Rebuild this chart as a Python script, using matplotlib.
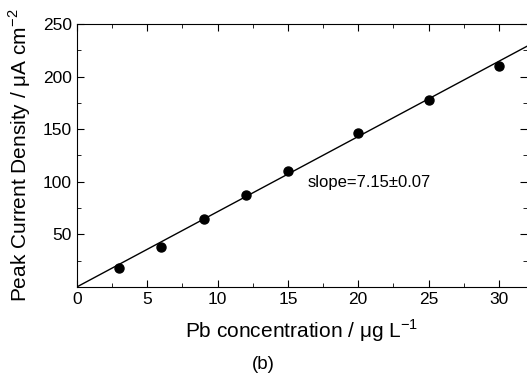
import numpy as np
import matplotlib
matplotlib.use('Agg')
import matplotlib.pyplot as plt
from matplotlib.ticker import MultipleLocator

plt.rcParams['font.family'] = ['Liberation Sans', 'DejaVu Sans']

# measured data points
conc = [3, 6, 9, 12, 15, 20, 25, 30]
current = [18, 38, 65, 87, 110, 146, 178, 210]

# fitted line
slope = 7.15
fit_x = [0, 32]

fig = plt.figure(figsize=(5.27, 3.8), dpi=100)
ax = fig.add_axes([0.146, 0.245, 0.854, 0.692])

ax.plot(fit_x, [slope * v for v in fit_x], color='black', lw=1.0)
ax.plot(conc, current, 'o', color='black', ms=6.5)

ax.set_xlim(0, 32)
ax.set_ylim(0, 250)
ax.xaxis.set_major_locator(MultipleLocator(5))
ax.xaxis.set_minor_locator(MultipleLocator(2.5))
ax.yaxis.set_minor_locator(MultipleLocator(25))
ax.set_yticks([50, 100, 150, 200, 250])
ax.tick_params(which='both', direction='in', top=True, right=True, labelsize=12.5)
ax.tick_params(which='major', length=5)
ax.tick_params(which='minor', length=3)
ax.spines['right'].set_visible(False)

ax.text(16.4, 99, 'slope=7.15\u00b10.07', fontsize=12, va='center', ha='left')

ax.set_xlabel('Pb concentration / $\\mathregular{\\mu}$g L$^{\\mathregular{-1}}$', fontsize=15, labelpad=7.5)
ax.set_ylabel('Peak Current Density / $\\mathregular{\\mu}$A cm$^{\\mathregular{-2}}$', fontsize=15, labelpad=7)
fig.text(0.5, 0.042, '(b)', ha='center', va='center', fontsize=13.5)

fig.savefig('out.png', dpi=100)
